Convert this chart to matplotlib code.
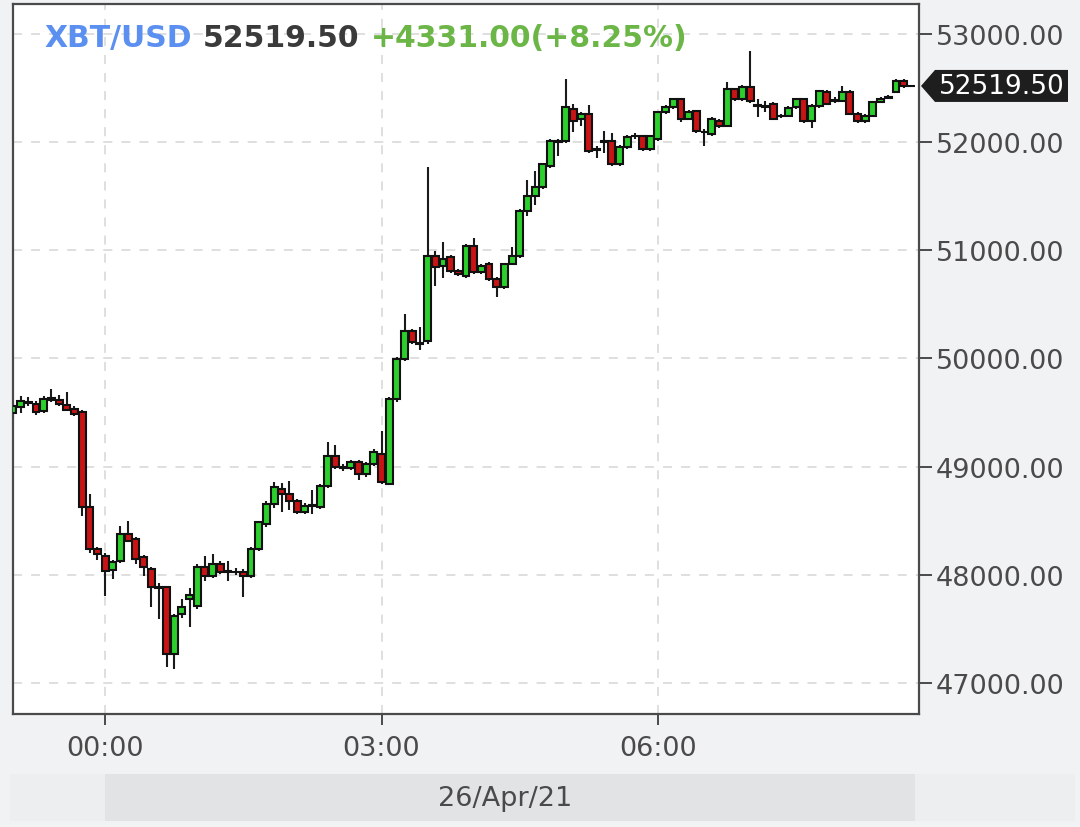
"""XBT/USD 5-minute candles, 26/Apr/21"""

import datetime as dt

import matplotlib

matplotlib.use("Agg")
import matplotlib.dates as mdates
import matplotlib.pyplot as plt
from matplotlib.patches import Polygon, Rectangle

# 5 minute candles starting 25/Apr 23:00
start = dt.datetime(2021, 4, 25, 23, 0)
step = dt.timedelta(minutes=5)

opens = [
    49500, 49553, 49600, 49580, 49516, 49620, 49620, 49570, 49530, 49507,
    48628, 48240, 48176, 48040, 48130, 48379, 48333, 48166, 48056, 47890,
    47889, 47270, 47640, 47780, 47713, 48074, 47991, 48102, 48030, 48030,
    48030, 47991, 48240, 48472, 48656, 48795, 48749, 48684, 48582, 48640,
    48628, 48823, 49100, 48998, 48990, 49044, 48934, 49026, 49118, 48841,
    49627, 49996, 50255, 50140, 50163, 50948, 50856, 50939, 50810, 50763,
    51041, 50800, 50874, 50736, 50662, 50874, 50948, 51364, 51503, 51586,
    51780, 52011, 52011, 52307, 52214, 52261, 51930, 52010, 52011, 51799,
    51956, 52060, 52057, 51937, 52030, 52279, 52325, 52399, 52214, 52288,
    52094, 52076, 52196, 52150, 52492, 52399, 52510, 52340, 52330, 52353,
    52240, 52240, 52325, 52399, 52196, 52335, 52464, 52380, 52381, 52464,
    52261, 52196, 52242, 52372, 52410, 52464, 52566, 52519.5,
]
highs = [
    49590, 49650, 49640, 49610, 49650, 49720, 49660, 49690, 49560, 49520,
    48750, 48260, 48200, 48140, 48450, 48499, 48350, 48180, 48070, 47920,
    47900, 47640, 47780, 47880, 48100, 48170, 48190, 48130, 48130, 48060,
    48050, 48260, 48500, 48680, 48860, 48850, 48870, 48700, 48660, 48780,
    48840, 49230, 49200, 49020, 49060, 49060, 49040, 49160, 49331, 49640,
    50010, 50412, 50270, 50290, 51771, 50990, 51080, 50960, 50830, 51060,
    51110, 50870, 50890, 50750, 50880, 51030, 51380, 51650, 51730, 51810,
    52030, 52030, 52580, 52350, 52280, 52340, 51960, 52100, 52080, 51970,
    52070, 52080, 52070, 52070, 52290, 52340, 52410, 52410, 52300, 52300,
    52120, 52230, 52210, 52560, 52500, 52530, 52840, 52400, 52380, 52370,
    52260, 52330, 52410, 52410, 52350, 52480, 52480, 52420, 52520, 52480,
    52280, 52260, 52380, 52420, 52440, 52580, 52580, 52530,
]
lows = [
    49440, 49500, 49560, 49480, 49500, 49600, 49560, 49510, 49470, 48545,
    48200, 48140, 47800, 47960, 48110, 48300, 48100, 47990, 47704, 47593,
    47150, 47131, 47600, 47520, 47680, 47940, 47970, 48010, 47940, 48000,
    47797, 47970, 48220, 48440, 48620, 48580, 48600, 48560, 48560, 48560,
    48610, 48800, 48980, 48960, 48970, 48880, 48900, 49010, 48840, 48830,
    49600, 49980, 50130, 50080, 50130, 50670, 50740, 50790, 50760, 50740,
    50780, 50780, 50720, 50569, 50640, 50860, 50930, 51320, 51420, 51570,
    51760, 51870, 51990, 52090, 52150, 51900, 51850, 51900, 51780, 51780,
    51940, 52030, 51920, 51920, 52010, 52260, 52310, 52190, 52200, 52080,
    51965, 52060, 52130, 52140, 52380, 52380, 52360, 52230, 52280, 52200,
    52220, 52230, 52310, 52180, 52130, 52320, 52340, 52360, 52370, 52250,
    52180, 52180, 52230, 52360, 52400, 52450, 52500, 52510,
]
closes = [
    49560, 49608, 49590, 49507, 49627, 49630, 49580, 49520, 49490, 48628,
    48240, 48194, 48037, 48120, 48379, 48314, 48148, 48074, 47889, 47880,
    47270, 47621, 47704, 47810, 48074, 47991, 48102, 48030, 48035, 48030,
    47991, 48240, 48490, 48656, 48813, 48749, 48684, 48582, 48638, 48645,
    48823, 49100, 48998, 48990, 49044, 48934, 49026, 49137, 48860, 49627,
    49996, 50255, 50153, 50130, 50948, 50847, 50921, 50810, 50780, 51041,
    50800, 50856, 50736, 50662, 50874, 50948, 51364, 51503, 51586, 51799,
    52011, 52000, 52325, 52196, 52261, 51919, 51935, 52005, 51799, 51956,
    52048, 52055, 51937, 52057, 52279, 52325, 52399, 52214, 52280, 52104,
    52090, 52214, 52150, 52492, 52399, 52510, 52381, 52335, 52325, 52214,
    52240, 52320, 52399, 52196, 52335, 52473, 52353, 52385, 52464, 52261,
    52196, 52242, 52372, 52400, 52420, 52566, 52519.5, 52519.5,
]

y_ticks = [47000, 48000, 49000, 50000, 51000, 52000, 53000]
x_ticks = [dt.datetime(2021, 4, 26, h) for h in (0, 3, 6)]
x_range = (dt.datetime(2021, 4, 25, 23, 0), dt.datetime(2021, 4, 26, 8, 50))
y_range = (46713, 53277)

symbol = "XBT/USD"
last_txt = "52519.50"
change_txt = "+4331.00(+8.25%)"
date_txt = "26/Apr/21"

BG = "#f1f2f4"
GREEN = "#2cd02c"
RED = "#c81414"
TXT = "#4a4a4a"


def main():
    fig = plt.figure(figsize=(10.8, 8.28), dpi=100, facecolor=BG)
    ax = fig.add_axes([13 / 1080, 113 / 828, 906 / 1080, 710 / 828])
    ax.set_facecolor("white")

    times = [start + i * step for i in range(len(opens))]
    x = mdates.date2num(times)
    width = 5 / 1440 * 0.9
    colors = [GREEN if c > o else RED for o, c in zip(opens, closes)]
    bottoms = [min(o, c) for o, c in zip(opens, closes)]
    heights = [abs(c - o) for o, c in zip(opens, closes)]

    ax.vlines(x, lows, highs, color="#1a1a1a", linewidth=1.5, zorder=2)
    ax.bar(x, heights, width=width, bottom=bottoms, color=colors,
           edgecolor="#111111", linewidth=1.5, zorder=3)

    ax.set_xlim(*x_range)
    ax.set_ylim(*y_range)
    ax.set_xticks(x_ticks)
    ax.xaxis.set_major_formatter(mdates.DateFormatter("%H:%M"))
    ax.set_yticks(y_ticks)
    ax.set_yticklabels([f"{v:.2f}" for v in y_ticks])
    ax.yaxis.tick_right()

    ax.grid(True, color="#dcdcdc", linestyle=(0, (5, 5)), linewidth=1.3, zorder=0)
    ax.set_axisbelow(True)
    for sp in ax.spines.values():
        sp.set_color("#4a4a4a")
        sp.set_linewidth(1.6)
    ax.tick_params(axis="y", direction="out", length=9, width=1.4, color="#4a4a4a",
                   labelsize=19.5, labelcolor=TXT, pad=3)
    ax.tick_params(axis="x", direction="out", length=8, width=1.4, color="#4a4a4a",
                   labelsize=19.5, labelcolor=TXT, pad=7)

    # title line: symbol, last price, change
    r = fig.canvas.get_renderer()
    xpos = 0.035
    for s, col in [(symbol, "#5b8ff0"), (last_txt, "#3a3a3a"), (change_txt, "#6cb648")]:
        t = ax.text(xpos, 0.953, s, transform=ax.transAxes, color=col, fontsize=21.5,
                    fontweight="bold", va="center", ha="left", zorder=5)
        bb = t.get_window_extent(renderer=r)
        xpos = ax.transAxes.inverted().transform((bb.x1 + 11, 0))[0]

    # price tag on the right axis
    yc = ax.transData.transform((x[-1], closes[-1]))[1]
    inv = fig.transFigure.inverted()
    pts = [(921, yc), (935, yc + 16), (1068, yc + 16), (1068, yc - 16), (935, yc - 16)]
    pts = [inv.transform(p) for p in pts]
    fig.add_artist(Polygon(pts, closed=True, facecolor="#1e1e1e", edgecolor="none",
                           transform=fig.transFigure))
    fig.text(1002 / 1080, inv.transform((0, yc))[1], last_txt, color="white",
             fontsize=19, ha="center", va="center")

    # date bar under the axis
    fig.add_artist(Rectangle((10 / 1080, 6 / 828), 1065 / 1080, 47 / 828,
                             facecolor="#eceef0", edgecolor="none",
                             transform=fig.transFigure, zorder=0))
    fig.add_artist(Rectangle((105 / 1080, 6 / 828), 810 / 1080, 47 / 828,
                             facecolor="#e2e3e5", edgecolor="none",
                             transform=fig.transFigure, zorder=0))
    fig.text(505 / 1080, 29 / 828, date_txt, color=TXT, fontsize=19.5,
             ha="center", va="center")

    fig.savefig("out.png", dpi=100, facecolor=BG)


if __name__ == "__main__":
    main()
